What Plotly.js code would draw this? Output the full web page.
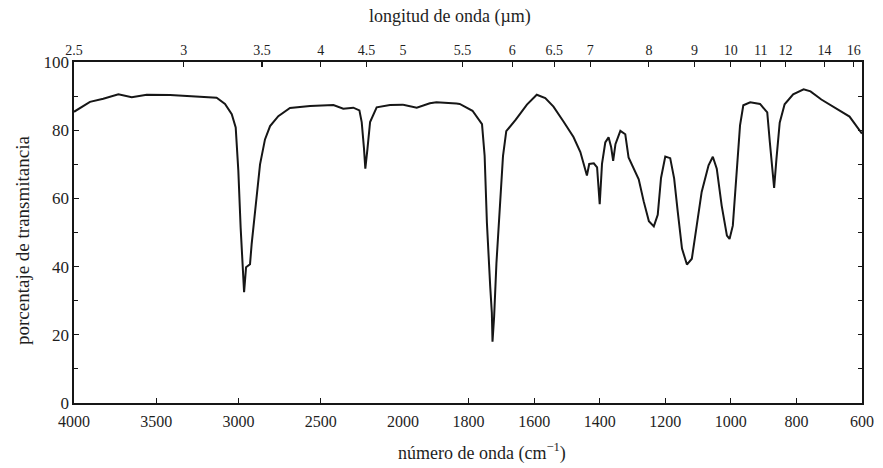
<!DOCTYPE html>
<html>
<head>
<meta charset="utf-8">
<script src="https://cdn.plot.ly/plotly-3.0.1.min.js"></script>
<style>html,body{margin:0;padding:0;background:#fff;}#chart{width:883px;height:468px;}</style>
</head>
<body>
<div id="chart"></div>
<script>
// Wavenumber (cm^-1) and % transmittance
const wavenumber = [4000,3903,3822,3730,3649,3558,3416,3335,3254,3133,3082,3041,3017,3001,2987,2974,2966,2954,2930,2920,2900,2869,2839,2808,2758,2687,2565,2423,2363,2302,2265,2251,2237,2229,2216,2200,2160,2079,2000,
  1958,1918,1898,1837,1827,1788,1759,1751,1744,1734,1729,1727,1722,1715,1705,1695,1685,1656,1622,1592,1566,1541,1510,1480,1459,1444,1439,1432,1418,1408,1400,1393,1383,1373,1365,1359,1352,1337,1322,1312,1296,1281,1266,1250,1235,1223,1213,1200,1185,1173,1162,1149,1134,1119,1104,1089,1068,1055,1043,1028,1012,1004,994,982,972,962,941,911,889,881,873,868,861,851,836,810,778,757,724,681,638,600];
const transmittance = [85.4,88.3,89.2,90.5,89.7,90.4,90.3,90.1,89.9,89.5,87.7,84.7,80.8,68.1,51.5,41.7,32.5,39.8,40.7,46.6,55.4,70,77.3,81.2,84.1,86.5,87.1,87.4,86.3,86.6,85.8,82.4,74.6,68.7,74.5,82.4,86.7,87.4,87.5,
  86.6,87.9,88.2,87.8,87.7,85.7,81.8,72.5,52.8,34.2,26.4,18.0,25.4,41,57.7,72.4,79.7,83.1,87.5,90.4,89.4,86.9,82.5,78,73.6,68.7,66.7,70.1,70.3,69.1,58.3,70.1,76.4,77.9,75,71,75.9,79.8,78.8,72,68.5,65.6,59.2,53.3,51.8,55.2,66,72.3,71.8,65.9,56.1,45.3,40.6,42.3,52.1,61.9,69.7,72.2,68.7,57.9,49.1,48.1,52,66.7,81.4,87.3,88.2,87.7,85.2,76.4,68.5,63.1,71.5,82.2,87.6,90.5,92,91.4,89,86.5,84,79];

// Axis ticks
const bottomTicksHigh = [4000,3500,3000,2500,2000];
const bottomTicksLow = [1800,1600,1400,1200,1000,800,600];
const wavelengthTicks = [2.5,3,3.5,4,4.5,5,5.5,6,6.5,7,8,9,10,11,12,14,16];
const yTicks = [0,20,40,60,80,100];

const fontFam = "Liberation Serif, Times New Roman, serif";
const ink = '#161616';
const txt = '#1e1e1e';

// split the spectrum at 2000 cm^-1 (the scale changes there)
const hiX = [], hiY = [], loX = [], loY = [];
wavenumber.forEach((w,i) => {
  if (w >= 2000) { hiX.push(w); hiY.push(transmittance[i]); }
  if (w <= 2000) { loX.push(w); loY.push(transmittance[i]); }
});

const wlHigh = wavelengthTicks.filter(u => 10000/u >= 2000);
const wlLow = wavelengthTicks.filter(u => 10000/u < 2000);

const lineStyle = {color: ink, width: 2};
const traces = [
  {x: hiX, y: hiY, xaxis: 'x', yaxis: 'y', mode: 'lines', line: lineStyle, hoverinfo: 'x+y'},
  {x: loX, y: loY, xaxis: 'x2', yaxis: 'y', mode: 'lines', line: lineStyle, hoverinfo: 'x+y'},
  {x: wlHigh.map(u => 10000/u), y: wlHigh.map(() => 50), xaxis: 'x3', yaxis: 'y', mode: 'markers', marker: {opacity: 0}, hoverinfo: 'skip'},
  {x: wlLow.map(u => 10000/u), y: wlLow.map(() => 50), xaxis: 'x4', yaxis: 'y', mode: 'markers', marker: {opacity: 0}, hoverinfo: 'skip'},
  {x: loX, y: loY, xaxis: 'x2', yaxis: 'y2', mode: 'lines', line: {width: 0}, opacity: 0, hoverinfo: 'skip'}
];

const split = 0.4175;
const axCommon = {
  showgrid: false, zeroline: false, showline: true, linecolor: ink, linewidth: 1.6,
  ticks: 'inside', ticklen: 5, tickcolor: ink, tickwidth: 1.2,
  tickfont: {family: fontFam, size: 16, color: txt}
};
const bottomExtra = {ticklabelstandoff: 3};
const topFont = {family: fontFam, size: 14, color: txt};

const layout = {
  width: 883, height: 468,
  margin: {l: 74, r: 21, t: 62, b: 65},
  paper_bgcolor: '#fff', plot_bgcolor: '#fff',
  showlegend: false,
  title: {text: 'longitud de onda (µm)', font: {family: fontFam, size: 18, color: txt},
          xref: 'paper', x: 0.477, xanchor: 'center', yref: 'container', y: 0.967, yanchor: 'middle'},
  xaxis: Object.assign({}, axCommon, bottomExtra, {domain: [0, split], range: [4000, 2000], tickvals: bottomTicksHigh, ticktext: bottomTicksHigh.map(String), anchor: 'y'}),
  xaxis2: Object.assign({}, axCommon, bottomExtra, {domain: [split, 1], range: [2000, 600], tickvals: bottomTicksLow, ticktext: bottomTicksLow.map(String), anchor: 'y'}),
  xaxis3: Object.assign({}, axCommon, {overlaying: 'x', side: 'top', anchor: 'y', range: [4000, 2000], tickfont: topFont, tickvals: wlHigh.map(u => 10000/u), ticktext: wlHigh.map(String)}),
  xaxis4: Object.assign({}, axCommon, {overlaying: 'x2', side: 'top', anchor: 'y', range: [2000, 600], tickfont: topFont, tickvals: wlLow.map(u => 10000/u), ticktext: wlLow.map(String)}),
  yaxis: Object.assign({}, axCommon, {
    range: [0, 100], tickvals: yTicks, ticktext: yTicks.map(String),
    tickfont: {family: fontFam, size: 17, color: txt},
    minor: {tickvals: [10,30,50,70,90], ticks: 'inside', ticklen: 4, tickcolor: ink}
  }),
  yaxis2: Object.assign({}, axCommon, {overlaying: 'y', side: 'right', anchor: 'x2', range: [0, 100],
    tickvals: [10,20,30,40,50,60,70,80,90], showticklabels: false, ticklen: 4}),
  annotations: [
    {
      text: 'número de onda (cm<sup>−1</sup>)', xref: 'paper', yref: 'paper', x: 0.518, y: -0.145,
      xanchor: 'center', yanchor: 'middle', showarrow: false,
      font: {family: fontFam, size: 18, color: txt}
    },
    {
      text: 'porcentaje de transmitancia', xref: 'paper', yref: 'paper', x: -0.066, y: 0.478,
      xanchor: 'center', yanchor: 'middle', showarrow: false, textangle: -90,
      font: {family: fontFam, size: 19, color: txt}
    }
  ]
};

Plotly.newPlot('chart', traces, layout, {displayModeBar: false, staticPlot: true});
</script>
</body>
</html>
